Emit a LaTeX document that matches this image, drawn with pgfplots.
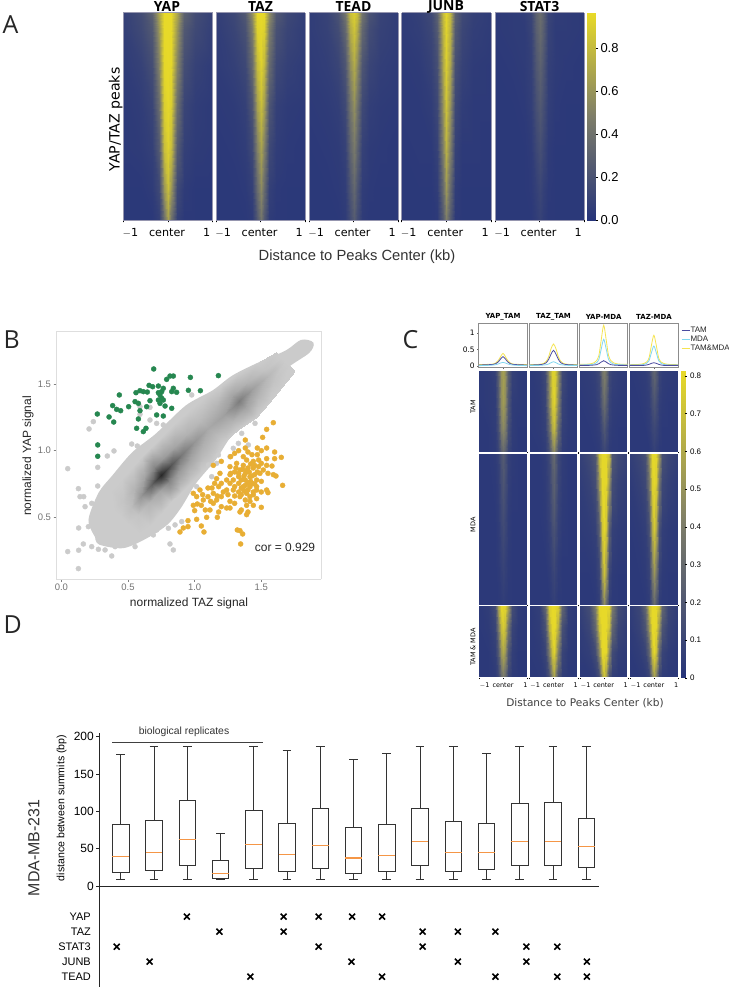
\documentclass[border=0pt]{standalone}
\usepackage{fontspec}
\setmainfont{Liberation Sans}
\newfontfamily\dv{DejaVu Sans}
\newfontfamily\os{Open Sans}
\usepackage{pgfplots}
\pgfplotsset{compat=1.18}
\usepgfplotslibrary{statistics}

\definecolor{hmframe}{RGB}{150,150,175}
\definecolor{cgray}{RGB}{203,203,203}
\definecolor{cgreen}{RGB}{38,135,80}
\definecolor{corange}{RGB}{232,174,52}
\definecolor{ctam}{RGB}{75,75,160}
\definecolor{cmda}{RGB}{130,215,240}
\definecolor{cboth}{RGB}{245,228,80}
\definecolor{cmed}{RGB}{245,150,70}

\newcommand{\fs}[1]{\fontsize{#1}{#1}\selectfont}

% one symmetric heatmap row: y, then z at x = 0, .08, .2, .35, .6, 1
\newcommand{\hr}[7]{(-1,#1,#7)(-.6,#1,#6)(-.35,#1,#5)(-.2,#1,#4)(-.08,#1,#3)(0,#1,#2)(.08,#1,#3)(.2,#1,#4)(.35,#1,#5)(.6,#1,#6)(1,#1,#7) }
% one symmetric peak: y at x = 0, .1, .2, .3, .4, .6, 1
\newcommand{\pk}[7]{(-1,#7)(-.6,#6)(-.4,#5)(-.3,#4)(-.2,#3)(-.1,#2)(0,#1)(.1,#2)(.2,#3)(.3,#4)(.4,#5)(.6,#6)(1,#7) }
\newcommand{\curve}[2]{\edef\tmp{\noexpand\addplot[#1] coordinates {#2};}\tmp}

\pgfplotsset{
  colormap={hm}{rgb255=(38,52,122) rgb255=(125,125,105) rgb255=(232,218,40)},
  px/.style n args={4}{scale only axis, anchor=north west,
    at={(#1bp,987bp-#2bp)}, width=#3bp, height=#4bp},
  heat/.style={colormap name=hm, view={0}{90}, xmin=-1, xmax=1, ymin=0, ymax=1,
    axis on top, ytick=\empty, xtick={-1,0,1}, xticklabels={},
    tick align=outside, major tick length=2.5pt, xtick pos=lower,
    axis line style={draw=hmframe, line width=.6pt}, tick style={black, line width=.4pt}},
  heatA/.style={heat, point meta min=0, point meta max=.966,
    extra x ticks={-.84,-.02,.87}, extra x tick labels={$-$1,center,1},
    extra x tick style={major tick length=0pt,
      tick label style={font=\dv\fs{11.2}, yshift=-5pt}}},
  heatC/.style={heat, point meta min=0, point meta max=.815,
    axis line style={draw=white, line width=.5pt}, major tick length=1.5pt},
  heatCb/.style={heatC,
    extra x ticks={-.76,0,.92}, extra x tick labels={$-$1,center,1},
    extra x tick style={major tick length=0pt,
      tick label style={font=\dv\fs{6.5}, yshift=-1.5pt}}},
  strip/.style={xmin=-1, xmax=1, ymin=-.05, ymax=1.28, axis line style={draw=black!45, line width=.7pt},
    xtick={0}, xticklabels={}, ytick=\empty, tick align=outside, major tick length=1.5pt,
    xtick pos=lower, ytick pos=left, tick style={black!60}},
  cbar/.style={colormap name=hm, view={0}{90}, xmin=0, xmax=1, xtick=\empty,
    axis y line*=right, axis on top, axis line style={draw=none}, tick align=outside,
    major tick length=2pt, tick style={black, line width=.4pt}},
}
\newcommand{\heat}[6]{%
  \begin{axis}[#1, px={#2}{#3}{#4}{#5}]
    \edef\tmp{\noexpand\addplot3[surf, shader=interp, mesh/cols=11] coordinates {#6};}\tmp
  \end{axis}}
\newcommand{\bx}[6]{\addplot[draw=black!80, line width=.75pt, boxplot prepared={draw position=#1,
   lower whisker=#2, lower quartile=#3, median=#4, upper quartile=#5, upper whisker=#6,
   draw direction=y, box extend=.5, whisker extend=.26,
   every median/.style={draw=cmed, line width=1.1pt}}] coordinates {};}

\begin{document}
\begin{tikzpicture}
\path[use as bounding box, fill=white] (0,0) rectangle (729bp,987bp);

% ---------- A
\heat{heatA}{123.3}{12.7}{89.2}{207.3}{
 \hr{1}{.96}{.96}{.7}{.3}{.16}{.08}
 \hr{.92}{.96}{.96}{.62}{.24}{.14}{.07}
 \hr{.75}{.96}{.95}{.52}{.17}{.09}{.05}
 \hr{.55}{.95}{.9}{.38}{.11}{.06}{.04}
 \hr{.35}{.92}{.82}{.26}{.08}{.05}{.04}
 \hr{.15}{.82}{.62}{.14}{.05}{.03}{.03}
 \hr{0}{.66}{.4}{.08}{.03}{.03}{.03}}
\heat{heatA}{216}{12.7}{89}{207.3}{
 \hr{1}{.96}{.95}{.58}{.24}{.13}{.07}
 \hr{.92}{.95}{.92}{.48}{.19}{.11}{.06}
 \hr{.75}{.92}{.8}{.36}{.13}{.08}{.05}
 \hr{.55}{.82}{.66}{.22}{.08}{.05}{.04}
 \hr{.35}{.68}{.5}{.14}{.06}{.04}{.03}
 \hr{.15}{.55}{.36}{.08}{.04}{.03}{.03}
 \hr{0}{.42}{.24}{.05}{.03}{.03}{.03}}
\heat{heatA}{309}{12.7}{89}{207.3}{
 \hr{1}{.9}{.82}{.42}{.2}{.1}{.06}
 \hr{.92}{.85}{.72}{.34}{.16}{.09}{.06}
 \hr{.75}{.72}{.56}{.22}{.11}{.07}{.05}
 \hr{.55}{.58}{.42}{.14}{.07}{.05}{.04}
 \hr{.35}{.46}{.32}{.09}{.05}{.04}{.03}
 \hr{.15}{.34}{.22}{.06}{.04}{.03}{.03}
 \hr{0}{.26}{.16}{.05}{.03}{.03}{.03}}
\heat{heatA}{401.5}{12.7}{89.5}{207.3}{
 \hr{1}{.94}{.8}{.3}{.14}{.08}{.05}
 \hr{.92}{.93}{.76}{.25}{.12}{.07}{.05}
 \hr{.75}{.9}{.7}{.18}{.09}{.05}{.04}
 \hr{.55}{.84}{.6}{.13}{.06}{.04}{.04}
 \hr{.35}{.76}{.5}{.09}{.04}{.04}{.03}
 \hr{.15}{.62}{.36}{.06}{.03}{.03}{.03}
 \hr{0}{.48}{.26}{.04}{.03}{.03}{.03}}
\heat{heatA}{495}{12.7}{89}{207.3}{
 \hr{1}{.38}{.3}{.11}{.06}{.05}{.04}
 \hr{.92}{.36}{.28}{.1}{.05}{.05}{.04}
 \hr{.75}{.3}{.23}{.08}{.05}{.04}{.03}
 \hr{.55}{.24}{.18}{.07}{.04}{.03}{.03}
 \hr{.35}{.18}{.13}{.05}{.03}{.03}{.03}
 \hr{.15}{.12}{.08}{.04}{.03}{.03}{.03}
 \hr{0}{.09}{.06}{.03}{.03}{.03}{.03}}
\begin{axis}[cbar, px={586.5}{12.7}{9.5}{207.3}, ymin=0, ymax=.966, point meta min=0, point meta max=.966,
  ytick={0,.2,.4,.6,.8}, yticklabels={0.0,0.2,0.4,0.6,0.8},
  tick label style={font=\fs{13}}, yticklabel style={xshift=-1pt}]
  \addplot3[surf, shader=interp, mesh/cols=2] coordinates {(0,0,0)(1,0,0)(0,.966,.966)(1,.966,.966)};
\end{axis}
\foreach \xx/\tt in {167/YAP,260.5/TAZ,353.5/TEAD,446/JUNB,539.5/STAT3}
  \node[font=\os\bfseries\fs{14}] at (\xx bp,987bp-6.5bp) {\tt};
\node[rotate=90, font=\dv\fs{14.2}, anchor=center] at (115.7bp,987bp-119.5bp) {YAP/TAZ peaks};
\node[font=\fs{14.8}, text=black!80] at (357bp,987bp-257bp) {Distance to Peaks Center (kb)};

% ---------- B
\begin{axis}[px={56}{331}{265.3}{248.3}, view={0}{90}, xmin=-.04, xmax=1.95, ymin=.035, ymax=1.898,
  colormap/blackwhite, point meta min=0, point meta max=255,
  axis line style={draw=black!13, line width=.8pt}, tick align=outside, major tick length=2.5pt,
  tick style={black!50, line width=.5pt}, xtick pos=lower, ytick pos=left,
  xtick={0,.5,1,1.5}, xticklabels={0.0,0.5,1.0,1.5}, ytick={.5,1,1.5}, yticklabels={0.5,1.0,1.5},
  tick label style={font=\fs{9.5}, text=black!55}, xticklabel style={yshift=1pt}, yticklabel style={xshift=1pt},
  clip=true]
 % grey cloud
 \addplot[fill=cgray, draw=cgray, line width=3pt, smooth, tension=.5] coordinates {
  (.265,.355)(.215,.48)(.29,.68)(.39,.805)(.54,.98)(.715,1.118)(.94,1.33)(1.14,1.4425)(1.29,1.555)
  (1.49,1.655)(1.69,1.7425)(1.80,1.82)(1.88,1.805)(1.85,1.74)(1.69,1.63)(1.59,1.505)(1.44,1.355)
  (1.33,1.2)(1.24,1.08)(1.15,.94)(1.0,.76)(.89,.58)(.79,.455)(.64,.355)(.465,.28)(.29,.305)(.265,.355)};
 \addplot[only marks, mark=*, mark size=2.5pt, mark options={draw=cgray, fill=cgray}] coordinates {
  (.048,.865)(.128,.715)(.168,.655)(.24,1.218)(.208,1.163)(.273,.875)(.273,.735)(.345,.96)(.395,.998)
  (.528,1.05)(.57,1.035)(.13,.42)(.13,.253)(.048,.243)(.128,.115)(.378,.21)(.165,.3)(.228,.28)(.278,.26)
  (.328,.255)(.403,.28)(.465,.3)(.553,.28)(.815,.3)(.84,.255)(.69,.368)(.715,.405)(.803,.418)(.853,.443)
  (.903,.468)(.203,.43)(.178,.58)(.228,.605)(.14,.655)(.59,1.273)(.665,1.325)(.715,1.205)(.665,1.23)
  (.59,1.33)(.765,1.193)(.978,1.418)(1.453,1.205)(1.353,1.13)(1.328,1.055)(1.29,1.018)(1.403,1.043)
  (1.265,.955)(1.178,.968)(1.165,.905)(1.103,.893)(1.128,.805)(1.015,.73)};
 % density along the ridge: x y and grey level, five points across each row
 \addplot3[surf, shader=interp, mesh/cols=5] coordinates {
  (.32,.624,203)(.398,.55,203)(.45,.5,203)(.502,.45,203)(.58,.376,203)
  (.376,.708,203)(.462,.625,196)(.52,.57,190)(.578,.515,196)(.664,.432,203)
  (.456,.798,203)(.542,.715,180)(.6,.66,150)(.658,.605,180)(.744,.522,203)
  (.536,.888,203)(.622,.805,165)(.68,.75,95)(.738,.695,165)(.824,.612,203)
  (.606,.958,203)(.692,.875,135)(.75,.82,40)(.808,.765,135)(.894,.682,203)
  (.676,1.028,203)(.762,.945,155)(.82,.89,85)(.878,.835,155)(.964,.752,203)
  (.756,1.108,203)(.842,1.025,165)(.9,.97,120)(.958,.915,165)(1.044,.832,203)
  (.856,1.208,203)(.942,1.125,178)(1,1.07,150)(1.058,1.015,178)(1.144,.932,203)
  (.956,1.308,203)(1.042,1.225,185)(1.1,1.17,168)(1.158,1.115,185)(1.215,1.06,203)
  (1.076,1.408,203)(1.162,1.325,180)(1.22,1.27,160)(1.278,1.215,180)(1.335,1.16,203)
  (1.2,1.494,203)(1.278,1.42,165)(1.33,1.37,125)(1.382,1.32,165)(1.46,1.246,203)
  (1.325,1.58,203)(1.394,1.514,180)(1.44,1.47,160)(1.486,1.426,180)(1.555,1.36,203)
  (1.466,1.66,203)(1.523,1.606,195)(1.56,1.57,185)(1.597,1.534,195)(1.654,1.48,203)
  (1.608,1.739,203)(1.651,1.698,203)(1.68,1.67,203)(1.709,1.642,203)(1.752,1.601,203)};
 % YAP enriched
 \addplot[only marks, mark=*, mark size=2.5pt, mark options={draw=cgreen, fill=cgreen}] coordinates {
  (.693,1.613)(.27,1.275)(.273,1.043)(.273,.958)(.435,1.418)(.385,1.338)(.415,1.31)(.445,1.3)(.358,1.253)
  (.393,1.215)(.505,1.33)(.565,1.168)(.615,1.143)(.635,1.168)(.56,1.435)(.59,1.45)(.615,1.443)(.645,1.44)
  (.658,1.49)(.685,1.48)(.728,1.485)(.79,1.535)(.815,1.56)(.84,1.56)(.968,1.55)(1.178,1.563)(.953,1.453)
  (1.043,1.45)(.728,1.435)(.765,1.468)(.84,1.468)(.865,1.438)(.828,1.443)(.553,1.368)(.578,1.355)(.59,1.3)
  (.665,1.375)(.64,1.33)(.578,1.238)(.715,1.268)(.765,1.26)(.828,1.318)(.728,1.38)(.753,1.393)(.74,1.418)
  (.765,1.38)(.778,1.335)(.74,1.355)(.753,1.443)};
 % TAZ enriched
 \addplot[only marks, mark=*, mark size=2.5pt, mark options={draw=corange, fill=corange}] coordinates {
  (1.59,1.21)(1.54,1.16)(1.51,1.10)(1.38,1.08)(1.38,1.02)(1.47,1.02)(1.54,1.02)(1.50,1.00)(1.60,.99)(1.65,.95)
  (1.60,.94)(1.54,.94)(1.47,.97)(1.40,.99)(1.33,1.00)(1.30,.98)(1.27,.955)(1.20,.92)(1.14,.89)(1.19,.83)
  (1.165,.79)(1.265,.88)(1.315,.905)(1.39,.93)(1.44,.92)(1.48,.88)(1.54,.89)(1.58,.885)(1.59,.82)(1.55,.83)
  (1.515,.855)(1.66,.74)(1.61,.81)(1.54,.705)(1.55,.685)(1.50,.69)(1.465,.73)(1.43,.755)(1.465,.78)(1.50,.77)
  (1.415,.805)(1.38,.83)(1.34,.855)(1.30,.84)(1.265,.82)(1.29,.78)(1.33,.755)(1.365,.73)(1.40,.705)(1.44,.67)
  (1.465,.64)(1.50,.575)(1.40,.54)(1.39,.52)(1.35,.555)(1.34,.54)(1.265,.57)(1.24,.57)(1.20,.58)(1.18,.54)
  (1.17,.50)(1.09,.50)(1.015,.485)(1.05,.435)(1.07,.39)(.95,.475)(.95,.43)(.915,.42)(.89,.39)(1.32,.405)
  (1.34,.40)(1.36,.375)(1.345,.30)(.99,.68)(1.015,.655)(.99,.59)(1.00,.55)(1.05,.59)(1.08,.555)(1.115,.555)
  (1.14,.605)(1.165,.63)(1.20,.655)(1.24,.705)(1.215,.69)(1.18,.73)(1.15,.755)(1.10,.72)(1.14,.68)(1.10,.655)
  (1.065,.63)(1.265,.62)(1.30,.605)(1.34,.655)(1.38,.63)(1.415,.62)(1.44,.59)(1.39,.59)(1.29,.705)(1.33,.69)
  (1.35,.67)(1.265,.755)(1.24,.78)(1.20,.755)(1.38,.78)(1.415,.73)(1.45,.82)(1.49,.83)(1.44,.87)(1.40,.87)
  (1.365,.89)(1.33,.805)(1.30,.73)(1.465,.705)(1.39,.68)(1.415,.655)(1.44,.69)(1.48,.93)(1.43,.97)(1.365,.955)
  (1.50,.905)(1.04,.705)(1.35,.78)(1.37,.81)(1.41,.84)(1.36,.86)(1.42,.77)(1.45,.75)(1.38,.74)(1.40,.76)
  (1.43,.81)(1.33,.83)(1.31,.87)(1.39,.85)(1.47,.84)(1.45,.89)(1.42,.90)(1.37,.70)(1.35,.72)(1.30,.66)
  (1.25,.67)(1.13,.72)(1.17,.66)(1.06,.67)(1.02,.60)(1.12,.62)(1.27,.83)};
\end{axis}
\node[font=\fs{12}, text=black!85] at (285bp,987bp-547bp) {cor = 0.929};
\node[font=\fs{12}, text=black!85] at (189bp,987bp-603bp) {normalized TAZ signal};
\node[rotate=90, font=\fs{12}, text=black!85] at (28bp,987bp-456bp) {normalized YAP signal};

% ---------- C, profiles
\begin{axis}[strip, px={478.7}{323.3}{48.6}{44.4}, ytick={0,.5,1}, yticklabels={0,0.5,1},
   yticklabel style={font=\dv\fs{7.5}, xshift=1pt}, clip=false]
 \curve{cboth, smooth, line width=.8pt}{\pk{.38}{.28}{.16}{.09}{.06}{.05}{.04}}
 \curve{ctam, smooth, line width=.8pt}{\pk{.28}{.21}{.12}{.07}{.05}{.04}{.03}}
 \curve{cmda, smooth, line width=.8pt}{\pk{.11}{.09}{.06}{.04}{.03}{.02}{.01}}
\end{axis}
\begin{axis}[strip, px={529.3}{323.3}{48.4}{44.4}]
 \curve{cboth, smooth, line width=.8pt}{\pk{.66}{.52}{.28}{.14}{.08}{.05}{.04}}
 \curve{ctam, smooth, line width=.8pt}{\pk{.47}{.36}{.2}{.1}{.06}{.04}{.03}}
 \curve{cmda, smooth, line width=.8pt}{\pk{.13}{.1}{.06}{.04}{.03}{.02}{.02}}
\end{axis}
\begin{axis}[strip, px={579.7}{323.3}{48}{44.4}]
 \curve{cboth, smooth, line width=.8pt}{\pk{1.22}{.8}{.32}{.16}{.1}{.06}{.05}}
 \curve{cmda, smooth, line width=.8pt}{\pk{.8}{.52}{.2}{.1}{.06}{.04}{.03}}
 \curve{ctam, smooth, line width=.8pt}{\pk{.16}{.12}{.07}{.04}{.03}{.02}{.02}}
\end{axis}
\begin{axis}[strip, px={629.7}{323.3}{48.3}{44.4}]
 \curve{cboth, smooth, line width=.8pt}{\pk{.92}{.62}{.24}{.12}{.08}{.05}{.04}}
 \curve{cmda, smooth, line width=.8pt}{\pk{.6}{.4}{.16}{.08}{.05}{.03}{.03}}
 \curve{ctam, smooth, line width=.8pt}{\pk{.1}{.08}{.05}{.03}{.02}{.02}{.02}}
\end{axis}
\foreach \xx/\tt in {503/YAP\_TAM,553.5/TAZ\_TAM,603.7/YAP-MDA,654/TAZ-MDA}
  \node[font=\dv\bfseries\fs{7}] at (\xx bp,987bp-317bp) {\tt};
% legend
\foreach \yy/\cc/\tt in {330/ctam/TAM,339/cmda/MDA,348/cboth/TAM\&MDA} {
  \draw[\cc, line width=.9pt] (681.7bp,987bp-\yy bp) -- (689.5bp,987bp-\yy bp);
  \node[font=\fs{8}, anchor=west, inner sep=0pt, text=black!85] at (690.3bp,987bp-\yy bp) {\tt};
}

% ---------- C, heatmaps: rows TAM, MDA, TAM&MDA
\heat{heatC}{478.7}{370.3}{48.6}{82}{
 \hr{1}{.56}{.5}{.24}{.07}{.04}{.03} \hr{.6}{.54}{.48}{.2}{.05}{.04}{.03}
 \hr{.3}{.46}{.4}{.15}{.05}{.03}{.03} \hr{0}{.3}{.24}{.09}{.04}{.03}{.03}}
\heat{heatC}{529.3}{370.3}{48.4}{82}{
 \hr{1}{.78}{.76}{.5}{.12}{.05}{.03} \hr{.6}{.78}{.72}{.44}{.09}{.04}{.03}
 \hr{.3}{.68}{.6}{.3}{.07}{.04}{.03} \hr{0}{.46}{.38}{.16}{.05}{.03}{.03}}
\heat{heatC}{579.7}{370.3}{48}{82}{
 \hr{1}{.42}{.34}{.12}{.07}{.05}{.04} \hr{.6}{.32}{.24}{.09}{.05}{.04}{.03}
 \hr{.3}{.2}{.14}{.06}{.04}{.03}{.03} \hr{0}{.1}{.08}{.04}{.03}{.03}{.03}}
\heat{heatC}{629.7}{370.3}{48.3}{82}{
 \hr{1}{.28}{.22}{.09}{.05}{.04}{.03} \hr{.6}{.18}{.14}{.06}{.04}{.03}{.03}
 \hr{.3}{.11}{.09}{.05}{.03}{.03}{.03} \hr{0}{.07}{.05}{.03}{.03}{.03}{.03}}

\heat{heatC}{478.7}{453}{48.6}{152}{
 \hr{1}{.22}{.17}{.07}{.04}{.03}{.03} \hr{.6}{.14}{.11}{.05}{.03}{.03}{.03}
 \hr{.3}{.09}{.07}{.04}{.03}{.03}{.03} \hr{0}{.05}{.04}{.03}{.03}{.03}{.03}}
\heat{heatC}{529.3}{453}{48.4}{152}{
 \hr{1}{.3}{.24}{.11}{.05}{.03}{.03} \hr{.6}{.2}{.16}{.08}{.04}{.03}{.03}
 \hr{.3}{.12}{.09}{.05}{.03}{.03}{.03} \hr{0}{.06}{.05}{.03}{.03}{.03}{.03}}
\heat{heatC}{579.7}{453}{48}{152}{
 \hr{1}{.8}{.8}{.7}{.2}{.12}{.07} \hr{.8}{.8}{.8}{.52}{.14}{.08}{.05}
 \hr{.5}{.8}{.72}{.24}{.07}{.05}{.04} \hr{.2}{.7}{.52}{.1}{.04}{.03}{.03} \hr{0}{.46}{.3}{.06}{.03}{.03}{.03}}
\heat{heatC}{629.7}{453}{48.3}{152}{
 \hr{1}{.8}{.8}{.52}{.16}{.1}{.06} \hr{.8}{.8}{.76}{.36}{.11}{.07}{.04}
 \hr{.5}{.74}{.6}{.16}{.06}{.04}{.03} \hr{.2}{.5}{.36}{.08}{.04}{.03}{.03} \hr{0}{.3}{.2}{.05}{.03}{.03}{.03}}

\heat{heatCb}{478.7}{605.7}{48.6}{72}{
 \hr{1}{.8}{.8}{.56}{.14}{.05}{.03} \hr{.7}{.75}{.68}{.36}{.09}{.04}{.03}
 \hr{.35}{.6}{.52}{.2}{.06}{.03}{.03} \hr{0}{.38}{.3}{.1}{.04}{.03}{.03}}
\heat{heatCb}{529.3}{605.7}{48.4}{72}{
 \hr{1}{.81}{.81}{.76}{.28}{.06}{.03} \hr{.7}{.81}{.8}{.62}{.16}{.05}{.03}
 \hr{.35}{.78}{.7}{.4}{.09}{.04}{.03} \hr{0}{.56}{.44}{.16}{.05}{.03}{.03}}
\heat{heatCb}{579.7}{605.7}{48}{72}{
 \hr{1}{.81}{.81}{.8}{.4}{.14}{.07} \hr{.7}{.81}{.81}{.7}{.28}{.1}{.05}
 \hr{.35}{.81}{.8}{.46}{.13}{.06}{.04} \hr{0}{.7}{.54}{.14}{.05}{.03}{.03}}
\heat{heatCb}{629.7}{605.7}{48.3}{72}{
 \hr{1}{.81}{.81}{.7}{.28}{.1}{.05} \hr{.7}{.81}{.8}{.52}{.18}{.08}{.04}
 \hr{.35}{.8}{.7}{.28}{.09}{.05}{.03} \hr{0}{.54}{.4}{.09}{.04}{.03}{.03}}
\begin{axis}[cbar, px={680.3}{370.3}{4.7}{307.4}, ymin=0, ymax=.815, point meta min=0, point meta max=.815,
  ytick={0,.1,.2,.3,.4,.5,.6,.7,.8}, yticklabels={0,0.1,0.2,0.3,0.4,0.5,0.6,0.7,0.8},
  tick label style={font=\fs{8}}, yticklabel style={xshift=-.5pt}]
  \addplot3[surf, shader=interp, mesh/cols=2] coordinates {(0,0,0)(1,0,0)(0,.815,.815)(1,.815,.815)};
\end{axis}
\node[rotate=90, font=\dv\fs{6.5}] at (473bp,987bp-407bp) {TAM};
\node[rotate=90, font=\dv\fs{6.5}] at (473bp,987bp-525bp) {MDA};
\node[rotate=90, font=\dv\fs{6.5}] at (473bp,987bp-647bp) {TAM \& MDA};
\node[font=\dv\fs{10.6}, text=black!75] at (585bp,987bp-703bp) {Distance to Peaks Center (kb)};

% ---------- D
\begin{axis}[px={99.3}{733}{499.7}{153}, xmin=.356, xmax=15.385, ymin=0, ymax=204.9,
  axis lines=left, axis line style={-, line width=.7pt, black!85}, xtick=\empty,
  ytick={0,50,100,150,200}, yticklabels={0,50,100,150,200}, tick align=outside, major tick length=3pt,
  tick style={black!85, line width=.6pt}, tick label style={font=\fs{12}},
  yticklabel style={xshift=1pt}, clip=false]
 \bx{1}{9}{18}{40}{82}{176}
 \bx{2}{9}{21}{45}{88}{187}
 \bx{3}{9}{28}{62.5}{114}{187}
 \bx{4}{9}{10}{17}{34}{70}
 \bx{5}{9}{24}{56}{101}{187}
 \bx{6}{9}{20}{42}{84}{181}
 \bx{7}{9}{24}{54}{104.5}{187}
 \bx{8}{9}{17}{37.5}{78}{169}
 \bx{9}{9}{20}{41}{82.6}{177}
 \bx{10}{9}{27}{59}{104}{187}
 \bx{11}{9}{20}{45}{86}{187}
 \bx{12}{9}{22}{45}{84}{177}
 \bx{13}{9}{27}{60}{110}{187}
 \bx{14}{9}{27}{60}{112.5}{187}
 \bx{15}{9}{25.5}{53}{90}{187}
\end{axis}
\begin{axis}[px={99.3}{886}{499.7}{101}, xmin=.356, xmax=15.385, ymin=.313, ymax=7.04,
  axis y line=left, axis x line=none, axis line style={-, line width=.7pt, black!85}, xtick=\empty,
  ytick={1,2,3,4,5}, yticklabels={TEAD,JUNB,STAT3,TAZ,YAP}, major tick length=0pt,
  tick label style={font=\fs{11}}, yticklabel style={xshift=-5pt}, clip=false]
 \addplot[only marks, mark=x, mark size=4.2pt, mark options={line width=1.6pt, black}] coordinates {
  (2.99,5)(5.90,5)(6.95,5)(7.96,5)(8.86,5)
  (3.97,4)(5.90,4)(10.08,4)(11.14,4)(12.27,4)
  (.88,3)(6.95,3)(10.08,3)(13.2,3)(14.13,3)
  (1.87,2)(7.94,2)(11.14,2)(13.2,2)(15.02,2)
  (4.90,1)(8.86,1)(12.27,1)(14.13,1)(15.02,1)};
\end{axis}
\draw[black!75, line width=.7pt] (112bp,987bp-742bp) -- (262.7bp,987bp-742bp);
\node[font=\fs{10.4}, text=black!80] at (184bp,987bp-732bp) {biological replicates};
\node[rotate=90, font=\fs{10.6}] at (61.7bp,987bp-808bp) {distance between summits (bp)};
\node[rotate=90, font=\fs{16}, text=black!80] at (34bp,987bp-848bp) {MDA-MB-231};

% panel letters
\node[font=\os\fs{25}, text=black!85, anchor=west] at (-1bp,987bp-25bp) {A};
\node[font=\os\fs{25}, text=black!85, anchor=west] at (0bp,987bp-340bp) {B};
\node[font=\os\fs{25}, text=black!85, anchor=west] at (399bp,987bp-340bp) {C};
\node[font=\os\fs{25}, text=black!85, anchor=west] at (0bp,987bp-625bp) {D};
\end{tikzpicture}
\end{document}
